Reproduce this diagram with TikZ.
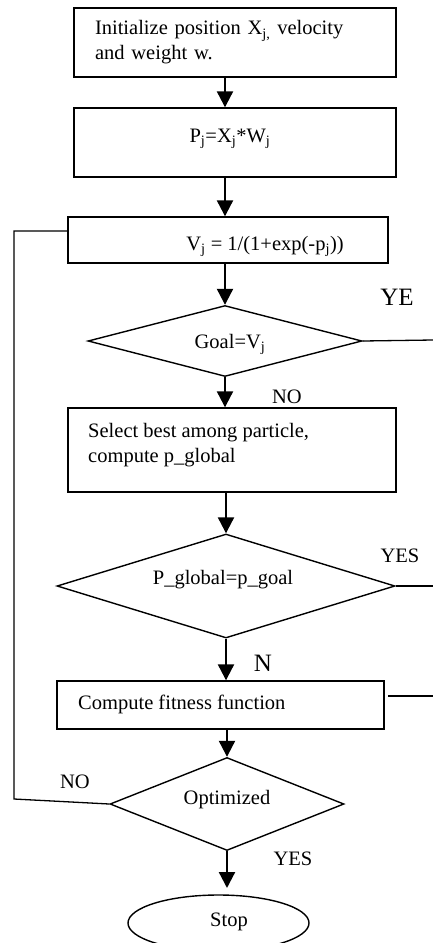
\documentclass[tikz,border=0pt]{standalone}
\usepackage{fontspec}
\setmainfont{Liberation Serif}
\usetikzlibrary{shapes.geometric,arrows.meta,calc}
\newcommand{\fsz}{\fontsize{20.5}{25}\selectfont}
\newcommand{\fbig}{\fontsize{25}{30}\selectfont}
\begin{document}
\begin{tikzpicture}[x=1pt,y=-1pt,
  box/.style={draw,line width=1.4pt,inner sep=0pt},
  dia/.style={draw,diamond,line width=1.4pt,inner sep=0pt},
  arr/.style={line width=2.2pt,-{Triangle[width=16pt,length=16pt]}},
  ln/.style={line width=1.3pt},
  txt/.style={font=\fsz,inner sep=0pt},
  lab/.style={font=\fsz,inner sep=0pt}]
\useasboundingbox (0,0) rectangle (433,943);
\clip (0,0) rectangle (433,943);
% boxes
\node[box,minimum width=322pt,minimum height=69pt,text width=280pt,align=left,font=\fsz] (b1) at (235,42.5)
  {Initialize position X\textsubscript{j,} velocity\\and weight w.};
\node[box,minimum width=322pt,minimum height=69pt] (b2) at (235,142.5) {};
\node[txt] (t2) at (230,139) {P\textsubscript{j}=X\textsubscript{j}*W\textsubscript{j}};
\node[box,minimum width=320pt,minimum height=46pt] (b3) at (228,240) {};
\node[txt] (t3) at (265,246) {V\textsubscript{j} = 1/(1+exp(-p\textsubscript{j}))};
\node[dia,minimum width=274pt,minimum height=71pt] (d1) at (225,341) {};
\node[txt] (td1) at (230,344) {Goal=V\textsubscript{j}};
\node[box,minimum width=328pt,minimum height=84pt] (b4) at (232,450) {};
\node[txt,anchor=west,align=left] (t4) at (88,445) {Select best among particle,\\compute p\_global};
\node[dia,minimum width=338pt,minimum height=104pt] (d2) at (226,586) {};
\node[txt] (td2) at (223,580) {P\_global=p\_goal};
\node[box,minimum width=327pt,minimum height=48pt] (b5) at (220.5,705) {};
\node[txt,anchor=west] (t5) at (78,704) {Compute fitness function};
\node[dia,minimum width=234pt,minimum height=93pt] (d3) at (227,804) {};
\node[txt] (td3) at (227,800) {Optimized};
\node[draw,ellipse,line width=1.4pt,minimum width=181pt,minimum height=56pt,inner sep=0pt] (stop) at (218.5,923) {};
\node[txt] (ts) at (229,922) {Stop};
% arrows
\draw[arr] (b1.south -| d1.north) -- (b2.north -| d1.north);
\draw[arr] (b2.south -| d1.north) -- (b3.north -| d1.north);
\draw[arr] (b3.south -| d1.north) -- (d1.north);
\draw[arr] (d1.south) -- (b4.north -| d1.south);
\draw[arr] (b4.south -| d2.north) -- (d2.north);
\draw[arr] (d2.south) -- (b5.north -| d2.south);
\draw[arr] (b5.south -| d3.north) -- (d3.north);
\coordinate (s1) at (227,888);
\draw[arr] (d3.south) -- (s1);
% side lines
\coordinate (e1) at (433,340);
\draw[ln] (d1.east) -- (e1);
\coordinate (e2) at (433,586);
\draw[ln] (d2.east) -- (e2);
\coordinate (e3a) at (388,696);
\coordinate (e3b) at (433,696);
\draw[ln] (e3a) -- (e3b);
\coordinate (l1) at (14,231);
\coordinate (l2) at (14,799);
\draw[ln] (b3.west |- l1) -- (l1) -- (l2) -- (d3.west);
% labels
\node[lab,font=\fbig] (lye) at (397,297) {YE};
\node[lab] (lno1) at (287,397) {NO};
\node[lab] (lyes2) at (400,556) {YES};
\node[lab,font=\fbig] (ln) at (263,663) {N};
\node[lab] (lno3) at (75,782) {NO};
\node[lab] (lyes3) at (293,859) {YES};
\end{tikzpicture}
\end{document}
